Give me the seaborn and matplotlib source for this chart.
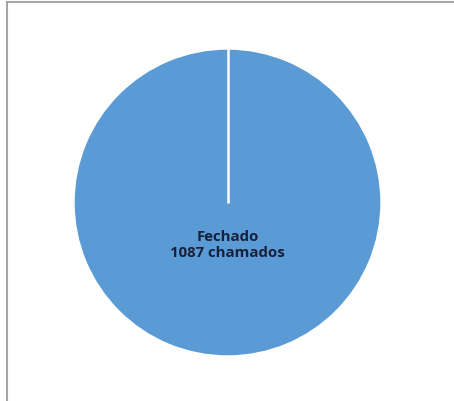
import matplotlib
matplotlib.use("Agg")
import matplotlib.pyplot as plt
from matplotlib.lines import Line2D
import seaborn as sns

# Dados do grafico
status = ["Fechado"]
chamados = [1087]
cores = ["#5B9BD5"]

sns.set_theme(style="white")
plt.rcParams['font.family'] = ['Open Sans', 'DejaVu Sans']

fig = plt.figure(figsize=(4.54, 4.02), dpi=100)
ax = fig.add_axes([74 / 454, 45 / 402, 307 / 454, 307 / 402])

def rotulo(pct):
    return f"{status[0]}\n{chamados[0]} chamados"

wedges, texts, autotexts = ax.pie(chamados, colors=cores, startangle=90, counterclock=False,
                                  autopct=rotulo, pctdistance=0.27, radius=1,
                                  textprops=dict(color="#18203a", fontsize=10.8, fontweight="bold",
                                                 linespacing=1.25))
# linha branca da borda da fatia
ax.plot([0, 0], [0, 1], color="white", lw=1.8, solid_capstyle="butt")
ax.set_xlim(-1, 1)
ax.set_ylim(-1, 1)
ax.set_aspect("equal")
ax.axis("off")

# moldura do grafico
fig.add_artist(Line2D([7 / 454, 7 / 454], [0, 1 - 3 / 402], transform=fig.transFigure,
                      color="#a6a6a6", lw=1.5))
fig.add_artist(Line2D([7 / 454, 1], [1 - 3 / 402, 1 - 3 / 402], transform=fig.transFigure,
                      color="#a6a6a6", lw=1.5))

fig.savefig("out.png", dpi=100)
